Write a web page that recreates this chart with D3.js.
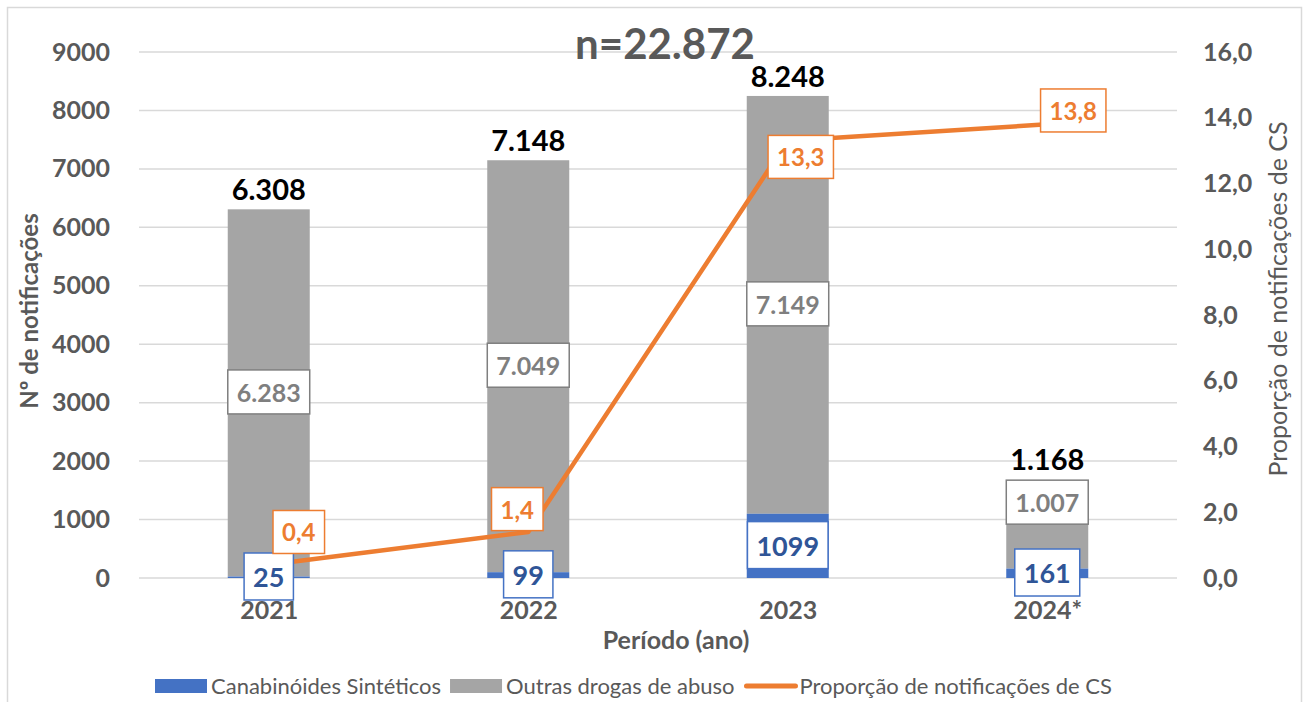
<!DOCTYPE html>
<html>
<head>
<meta charset="utf-8">
<script src="https://cdn.jsdelivr.net/npm/d3@7"></script>
<style>
  html, body { margin: 0; background: #fff; overflow: hidden; }
  svg { display: block; font-family: Lato, "Liberation Sans", sans-serif; }
</style>
</head>
<body>
<div id="chart" style="width:1309px;height:702px"></div>
<script>
// values
const years = ["2021", "2022", "2023", "2024*"]
const canabinoides = [25, 99, 1099, 161]
const outrasDrogas = [6283, 7049, 7149, 1007]
const totais = [6308, 7148, 8248, 1168]
const proporcao = [0.4, 1.4, 13.3, 13.8]
const leftTicks = [0, 1000, 2000, 3000, 4000, 5000, 6000, 7000, 8000, 9000]
const rightTicks = [0, 2, 4, 6, 8, 10, 12, 14, 16]

// manual label nudges (the original labels were dragged by hand)
const propLabelNudge = [[30, -32], [-11, -22], [13, 17], [26, -13]]
const grayLabelNudge = [0, 0, 0, -36]
const totalLabelNudge = [0, 0, 0, -31]

const colors = { cs: "#4472C4", outras: "#A5A5A5", prop: "#ED7D31", text: "#595959" }

const locale = d3.formatLocale({ decimal: ",", thousands: ".", grouping: [3], currency: ["", ""] })
const fmtThousands = locale.format(",d")
const fmtProp = locale.format(".1f")

const width = 1309, height = 702
const margin = { top: 52, right: 132, bottom: 124, left: 139 }
const innerWidth = width - margin.left - margin.right
const innerHeight = height - margin.top - margin.bottom

const svg = d3.select("#chart").append("svg")
  .attr("width", width)
  .attr("height", height)

// chart border (bottom edge falls outside the picture, as in the original)
svg.append("path")
  .attr("d", `M7.5,${height} V7.5 H1301.5 V${height}`)
  .attr("fill", "none")
  .attr("stroke", "#D9D9D9")
  .attr("stroke-width", 1.5)

const g = svg.append("g").attr("transform", `translate(${margin.left},${margin.top})`)

const x = d3.scalePoint().domain(years).range([0, innerWidth]).padding(0.5)
const barW = x.step() * 0.316
const yL = d3.scaleLinear().domain([0, 9000]).range([innerHeight, 0])
const yR = d3.scaleLinear().domain([0, 16]).range([innerHeight, 0])

// gridlines
g.append("g").selectAll("line")
  .data(leftTicks)
  .join("line")
  .attr("x1", 0).attr("x2", innerWidth)
  .attr("y1", d => yL(d)).attr("y2", d => yL(d))
  .attr("stroke", "#D9D9D9")
  .attr("stroke-width", 1.5)

// axes
function styleAxis(sel) {
  sel.select(".domain").remove()
  sel.attr("font-family", null).attr("font-size", null)
  sel.selectAll("text")
    .attr("font-size", 25).attr("font-weight", "bold").attr("fill", colors.text)
}

g.append("g")
  .call(d3.axisLeft(yL).tickValues(leftTicks).tickSize(0).tickPadding(29).tickFormat(d3.format("d")))
  .call(styleAxis)

g.append("g")
  .attr("transform", `translate(${innerWidth},0)`)
  .call(d3.axisRight(yR).tickValues(rightTicks).tickSize(0).tickPadding(26).tickFormat(fmtProp))
  .call(styleAxis)

g.append("g")
  .attr("transform", `translate(0,${innerHeight})`)
  .call(d3.axisBottom(x).tickSize(0).tickPadding(23))
  .call(styleAxis)

// stacked bars
const rows = years.map((yr, i) => ({ yr, cs: canabinoides[i], outras: outrasDrogas[i], total: totais[i], prop: proporcao[i], i }))

g.append("g").selectAll("rect")
  .data(rows)
  .join("rect")
  .attr("x", d => x(d.yr) - barW / 2)
  .attr("width", barW)
  .attr("y", d => yL(d.cs + d.outras))
  .attr("height", d => yL(d.cs) - yL(d.cs + d.outras))
  .attr("fill", colors.outras)

g.append("g").selectAll("rect")
  .data(rows)
  .join("rect")
  .attr("x", d => x(d.yr) - barW / 2)
  .attr("width", barW)
  .attr("y", d => yL(d.cs))
  .attr("height", d => yL(0) - yL(d.cs))
  .attr("fill", colors.cs)

// proportion line
const line = d3.line()
  .x(d => x(d.yr))
  .y(d => yR(d.prop))

g.append("path")
  .datum(rows)
  .attr("d", line)
  .attr("fill", "none")
  .attr("stroke", colors.prop)
  .attr("stroke-width", 4.5)
  .attr("stroke-linejoin", "round")
  .attr("stroke-linecap", "round")

// boxed labels
function boxedLabel(parent, cx, cy, text, size, textColor, borderColor) {
  const lg = parent.append("g").attr("transform", `translate(${cx},${cy})`)
  const rect = lg.append("rect")
  const t = lg.append("text")
    .attr("text-anchor", "middle")
    .attr("y", size * 0.36)
    .attr("font-size", size)
    .attr("font-weight", "bold")
    .attr("fill", textColor)
    .text(text)
  const bb = t.node().getBBox()
  const padX = 9, padY = 7
  rect.attr("x", bb.x - padX).attr("y", bb.y - padY)
    .attr("width", bb.width + 2 * padX).attr("height", bb.height + 2 * padY)
    .attr("fill", "#fff")
    .attr("stroke", borderColor)
    .attr("stroke-width", 1.5)
}

const labels = g.append("g")

rows.forEach(d => {
  const mid = (yL(d.cs) + yL(d.cs + d.outras)) / 2
  boxedLabel(labels, x(d.yr), mid + grayLabelNudge[d.i], fmtThousands(d.outras), 25, "#7F7F7F", "#7F7F7F")
})

rows.forEach(d => {
  const mid = (yL(0) + yL(d.cs)) / 2
  boxedLabel(labels, x(d.yr), mid, String(d.cs), 27, "#2F5597", colors.cs)
})

rows.forEach(d => {
  const [dx, dy] = propLabelNudge[d.i]
  boxedLabel(labels, x(d.yr) + dx, yR(d.prop) + dy, fmtProp(d.prop), 24, colors.prop, colors.prop)
})

// totals above bars
g.append("g").selectAll("text")
  .data(rows)
  .join("text")
  .attr("x", d => x(d.yr))
  .attr("y", d => yL(d.total) - 9 + totalLabelNudge[d.i])
  .attr("text-anchor", "middle")
  .attr("font-size", 29)
  .attr("font-weight", "bold")
  .attr("fill", "#000")
  .text(d => fmtThousands(d.total))

// titles
svg.append("text")
  .attr("x", 665).attr("y", 59)
  .attr("text-anchor", "middle")
  .attr("font-size", 42).attr("font-weight", "bold")
  .attr("fill", colors.text)
  .text("n=22.872")

svg.append("text")
  .attr("transform", `translate(38,${margin.top + innerHeight / 2 - 4}) rotate(-90)`)
  .attr("text-anchor", "middle")
  .attr("font-size", 24).attr("font-weight", "bold")
  .attr("fill", colors.text)
  .text("Nº de notificações")

svg.append("text")
  .attr("transform", `translate(1287,${margin.top + innerHeight / 2 - 16}) rotate(-90)`)
  .attr("text-anchor", "middle")
  .attr("font-size", 25)
  .attr("fill", colors.text)
  .text("Proporção de notificações de CS")

svg.append("text")
  .attr("x", 676).attr("y", 649)
  .attr("text-anchor", "middle")
  .attr("font-size", 25).attr("font-weight", "bold")
  .attr("fill", colors.text)
  .text("Período (ano)")

// legend
const legendItems = [
  { label: "Canabinóides Sintéticos", color: colors.cs, kind: "rect" },
  { label: "Outras drogas de abuso", color: colors.outras, kind: "rect" },
  { label: "Proporção de notificações de CS", color: colors.prop, kind: "line" }
]
const legend = svg.append("g").attr("transform", "translate(0,686)")
let lx = 155
legendItems.forEach(item => {
  if (item.kind === "rect") {
    legend.append("rect")
      .attr("x", lx).attr("y", -7).attr("width", 52).attr("height", 14)
      .attr("fill", item.color)
  } else {
    legend.append("line")
      .attr("x1", lx + 3).attr("x2", lx + 52)
      .attr("y1", 0).attr("y2", 0)
      .attr("stroke", item.color).attr("stroke-width", 5)
      .attr("stroke-linecap", "round")
  }
  const t = legend.append("text")
    .attr("x", lx + 56).attr("y", 8)
    .attr("font-size", 22)
    .attr("fill", colors.text)
    .text(item.label)
  lx += 56 + t.node().getComputedTextLength() + 9
})
</script>
</body>
</html>
